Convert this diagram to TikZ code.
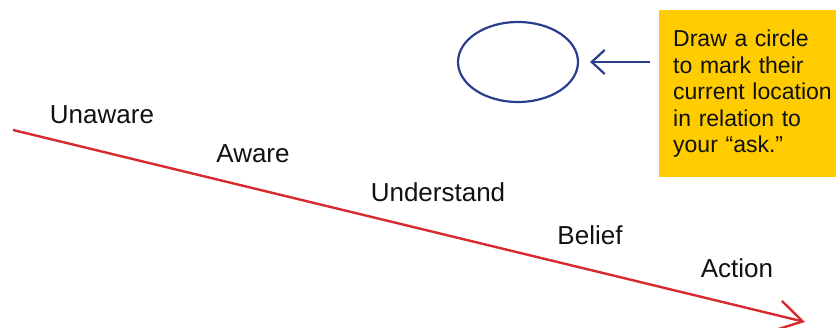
\documentclass[tikz,border=0pt]{standalone}
\usepackage{fontspec}
\setmainfont{Liberation Sans}
\usetikzlibrary{arrows.meta, positioning, shapes.geometric}
\definecolor{redline}{HTML}{D62A2E}
\definecolor{ringblue}{HTML}{2B3E8E}
\definecolor{noteyellow}{HTML}{FFCC00}
\definecolor{ink}{HTML}{111111}
\tikzset{
  stage/.style={font=\fontsize{26}{30}\selectfont, text=ink, inner sep=0pt},
  notebox/.style={rectangle, fill=noteyellow, align=left, text=ink,
                  font=\fontsize{23}{26.5}\selectfont, inner xsep=14pt,
                  text width=200pt, minimum height=167pt},
  ring/.style={ellipse, draw=ringblue, line width=2.2pt,
               minimum width=120pt, minimum height=80pt},
  pointer/.style={-{Straight Barb[length=13pt, width=24pt]}, line width=2.2pt, draw=ringblue},
  path arrow/.style={-{Straight Barb[length=25pt, width=30pt]}, line width=2.4pt, draw=redline},
}
\begin{document}
\begin{tikzpicture}[x=1pt, y=-1pt]
  \useasboundingbox (0,0) rectangle (836,328);
  \clip (0,0) rectangle (836,328);

  % the path from unaware to action
  \coordinate (start) at (13,130);
  \coordinate (finish) at (805,322);
  \draw[path arrow] (start) -- (finish);

  \node[stage] (unaware) at (102,115) {Unaware};
  \node[stage] (aware) at (253,154) {Aware};
  \node[stage] (understand) at (438,192) {Understand};
  \node[stage] (belief) at (590,235) {Belief};
  \node[stage] (action) at (737,268) {Action};

  % the note and its circle
  \node[ring] (circ) at (518,62) {};
  \node[notebox, anchor=north west] (note) at (659,10)
    {Draw a circle\\ to mark their\\ current location\\ in relation to\\ your ``ask.''};
  \coordinate (tail) at ([xshift=-9pt]note.west |- circ.east);
  \draw[pointer] (tail) -- ([xshift=11pt]circ.east);
\end{tikzpicture}
\end{document}
